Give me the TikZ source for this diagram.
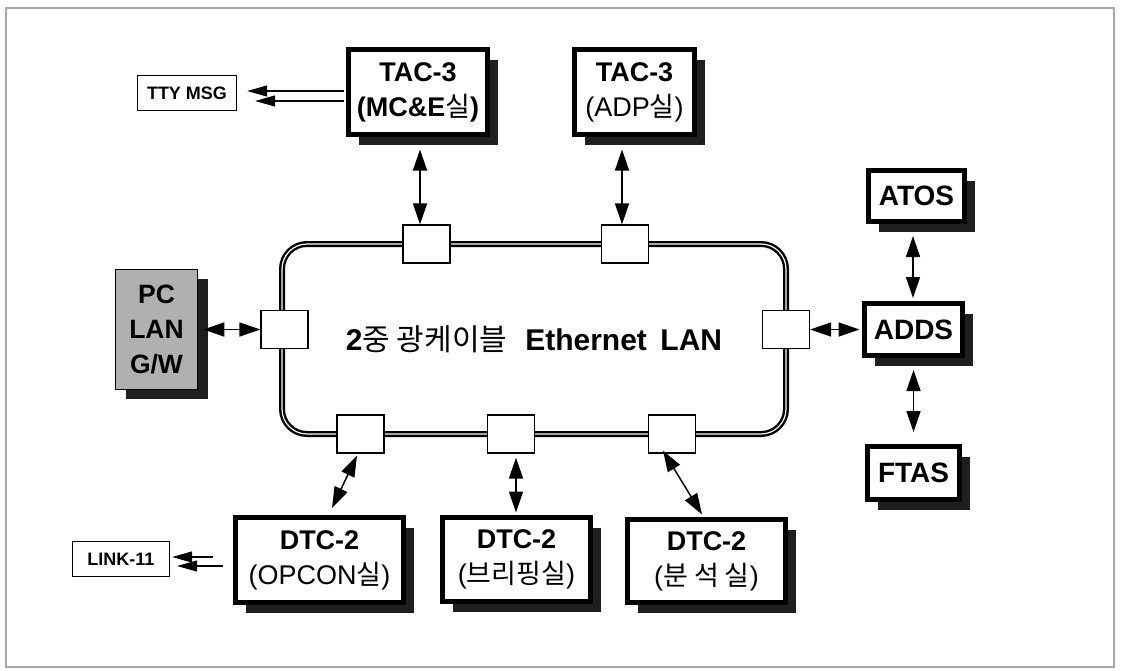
\documentclass[tikz,border=0pt]{standalone}
\usepackage{fontspec}
\setmainfont{Liberation Sans}
\newfontfamily\kofont{Noto Sans CJK KR}
\newcommand{\krtext}[1]{{\kofont\mdseries #1}}
\usetikzlibrary{arrows.meta,calc,shadows}

\begin{document}
\begin{tikzpicture}[x=1pt,y=-1pt,
  unit/.style={draw=black, line width=5pt, fill=white, inner sep=0pt, align=center,
    drop shadow={shadow xshift=10pt, shadow yshift=-10pt, fill=black!88, opacity=1},
    font=\fontsize{27}{35}\selectfont\bfseries},
  gw/.style={draw=black, line width=1.5pt, fill=gray!62, inner sep=0pt, align=center,
    drop shadow={shadow xshift=10pt, shadow yshift=-9pt, fill=black!88, opacity=1},
    font=\fontsize{26.5}{35}\selectfont\bfseries},
  port/.style={draw=black, line width=1.2pt, fill=white, minimum width=47pt,
    minimum height=38pt, inner sep=0pt},
  tag/.style={draw=black, line width=1.3pt, fill=white, inner sep=0pt,
    font=\fontsize{18}{20}\selectfont\bfseries},
  lanring/.style={draw=black, line width=2.4pt, double=white, double distance=1.2pt,
    rounded corners=25pt, minimum width=504pt, minimum height=190pt, inner sep=0pt,
    font=\fontsize{30}{32}\selectfont},
  bi/.style={line width=1.5pt,
    {Triangle[length=21pt,width=14pt]}-{Triangle[length=21pt,width=14pt]}},
  one/.style={line width=1.2pt, -{Triangle[length=20pt,width=11pt]}}
]
\useasboundingbox (0,0) rectangle (1123,670);
\draw[gray!70, line width=1.2pt] (6,8) rectangle (1114,667);

% Ethernet ring
\node[lanring] (lan) at (534,339)
  {{\bfseries 2}\krtext{중 광케이블}\hspace{0.6em}{\bfseries Ethernet\hspace{0.45em}LAN}};

% ring ports
\node[port] (pt1) at (426.5,244) {};
\node[port] (pt2) at (625,244) {};
\node[port] (pl)  at (284.5,329.5) {};
\node[port] (pr)  at (786,329.5) {};
\node[port] (pb1) at (360.5,434) {};
\node[port] (pb2) at (511,434) {};
\node[port] (pb3) at (672,434) {};

% stations
\node[unit, minimum width=139pt, minimum height=85pt] (mce) at (418,92)
  {TAC-3\\(MC\&E\krtext{실})};
\node[unit, minimum width=120pt, minimum height=85pt] (adp) at (634.5,92)
  {TAC-3\\\mdseries(ADP\krtext{실})};
\node[unit, minimum width=96pt, minimum height=51pt, font=\fontsize{28}{30}\selectfont\bfseries] (atos) at (916.5,196) {ATOS};
\node[unit, minimum width=98pt, minimum height=52pt, font=\fontsize{28}{30}\selectfont\bfseries] (adds) at (913.5,329.5) {ADDS};
\node[unit, minimum width=92pt, minimum height=53pt, font=\fontsize{28}{30}\selectfont\bfseries] (ftas) at (913.5,473) {FTAS};
\node[unit, minimum width=168pt, minimum height=85pt] (opcon) at (319.5,560)
  {DTC-2\\\mdseries(OPCON\krtext{실})};
\node[unit, minimum width=148pt, minimum height=84pt] (brief) at (516.5,559.5)
  {DTC-2\\\mdseries(\krtext{브리핑실})};
\node[unit, minimum width=158pt, minimum height=83pt] (anal) at (706.5,561)
  {DTC-2\\\mdseries(\krtext{분 석 실})};
\node[gw, minimum width=82pt, minimum height=120pt] (pc) at (156.5,329.5)
  {PC\\LAN\\G/W};

% external links
\node[tag, minimum width=99pt, minimum height=35pt] (tty) at (187,93) {TTY MSG};
\node[tag, minimum width=97pt, minimum height=35pt] (link) at (121,559) {LINK-11};

% station to ring connections
\draw[bi] ($(mce.south)+(2,12.5)$) -- ($(pt1.north)+(-6.5,0)$);
\draw[bi] ($(adp.south)+(-12.5,12.5)$) -- ($(pt2.north)+(-3,0)$);
\draw[bi] ($(pc.east)+(5,0)$) -- (pl.west);
\draw[bi] (pr.east) -- ($(adds.west)+(-2.5,0)$);
\draw[bi] ($(atos.south)+(-3.5,12)$) -- ($(adds.north)+(-0.5,-3)$);
\draw[bi] ($(adds.south)+(0,12)$) -- ($(ftas.north)+(0,-12)$);
\draw[bi] ($(pb1.south)+(-3.5,2)$) -- ($(opcon.north)+(12.5,-7)$);
\draw[bi] ($(pb2.south)+(5,4)$) -- ($(brief.north)+(-0.5,-2.5)$);
\draw[bi] ($(pb3.south)+(-9,-3)$) -- ($(anal.north)+(-4.5,-2.5)$);

% message outputs
\draw[one] ($(mce.west)+(-2.5,-1)$) -- ($(tty.east)+(10,-2)$);
\draw[one] ($(mce.west)+(-2.5,9)$) -- ($(tty.east)+(18,8)$);
\coordinate (lk1) at (213,557);
\coordinate (lk2) at (223,566);
\draw[one] (lk1) -- ($(link.east)+(2,-2)$);
\draw[one] (lk2) -- ($(link.east)+(7,7)$);
\end{tikzpicture}
\end{document}
